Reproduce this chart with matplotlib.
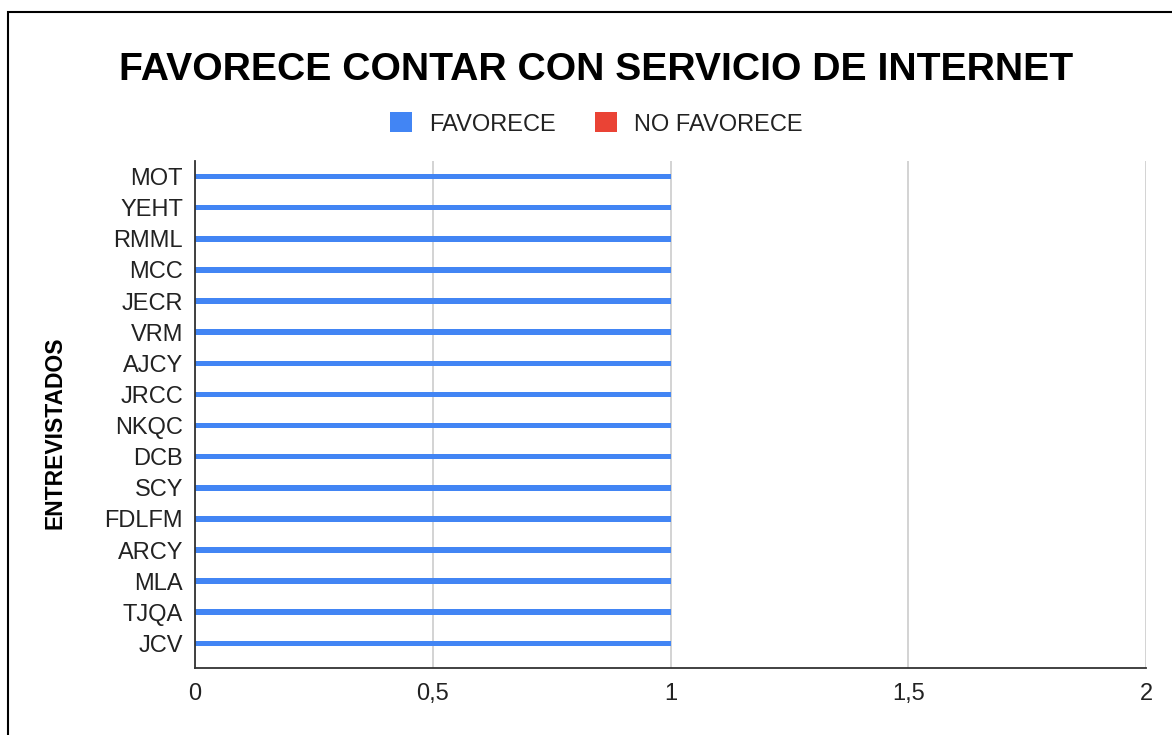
import matplotlib.pyplot as plt
from matplotlib.patches import Patch, Rectangle

entrevistados = ["MOT", "YEHT", "RMML", "MCC", "JECR", "VRM", "AJCY", "JRCC",
                 "NKQC", "DCB", "SCY", "FDLFM", "ARCY", "MLA", "TJQA", "JCV"]
favorece = [1] * 16
no_favorece = [0] * 16
x_ticks = [0, 0.5, 1, 1.5, 2]
x_labels = ["0", "0,5", "1", "1,5", "2"]

blue = "#4285F4"
red = "#EA4335"

plt.rcParams['font.family'] = ['Liberation Sans', 'DejaVu Sans']

fig = plt.figure(figsize=(11.72, 7.35), dpi=100)
# axes box in pixels: x 195..1146, y 161..668
ax = fig.add_axes([195 / 1172, 1 - 668 / 735, 951 / 1172, 507 / 735])

pos = list(range(len(entrevistados)))
ax.barh(pos, favorece, height=0.18, color=blue, zorder=3)
ax.barh(pos, no_favorece, height=0.18, color=red, zorder=3)

ax.set_ylim(15.79, -0.5)
ax.set_xlim(0, 2)
ax.set_yticks(pos)
ax.set_yticklabels(entrevistados, fontsize=17, color="#222222")
ax.set_xticks(x_ticks)
ax.set_xticklabels(x_labels, fontsize=17, color="#222222")
ax.tick_params(axis='both', length=0)
ax.tick_params(axis='y', pad=8.6)
ax.tick_params(axis='x', pad=11)

ax.grid(axis='x', color='#cccccc', linewidth=1.2, zorder=0)
ax.grid(axis='y', visible=False)
for side in ['top', 'right']:
    ax.spines[side].set_visible(False)
ax.spines['left'].set_color('#333333')
ax.spines['bottom'].set_color('#333333')
ax.spines['left'].set_linewidth(1.3)
ax.spines['bottom'].set_linewidth(1.3)
ax.spines['left'].set_zorder(4)

ax.set_ylabel("ENTREVISTADOS", fontsize=16.5, fontweight='bold', va='center')
ax.yaxis.set_label_coords((55 - 195) / 951, (668 - 433) / 507)

fig.text(0.509, 1 - 70 / 735, "FAVORECE CONTAR CON SERVICIO DE INTERNET",
         fontsize=28.2, fontweight='bold', ha='center', va='center')

handles = [Patch(facecolor=blue, label="FAVORECE"),
           Patch(facecolor=red, label="NO FAVORECE")]
fig.legend(handles=handles, loc='center', bbox_to_anchor=(0.509, 0.8313), ncol=2,
           frameon=False, fontsize=17, handlelength=0.93, handleheight=0.93,
           columnspacing=1.65, handletextpad=0.72, labelcolor="#222222")

fig.patches.append(Rectangle((8 / 1172, -0.1), 1.2, 1.1 - 12 / 735,
                             transform=fig.transFigure, fill=False,
                             edgecolor='black', linewidth=1.5))

fig.savefig("out.png", dpi=100)
